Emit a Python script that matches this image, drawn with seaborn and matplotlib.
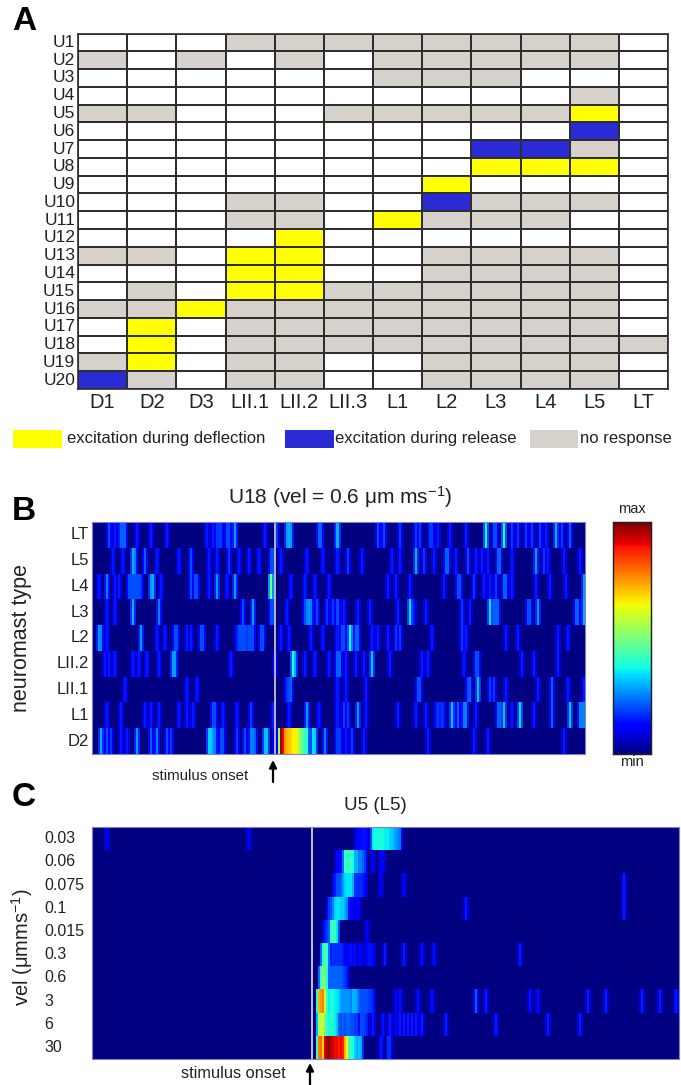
import numpy as np
import matplotlib
matplotlib.use("Agg")
import matplotlib.pyplot as plt
from matplotlib.colors import ListedColormap
from matplotlib.patches import Rectangle, FancyArrowPatch
import seaborn as sns

W, H = 681, 1085

# ---------- panel A ----------
neuromasts = ["D1", "D2", "D3", "LII.1", "LII.2", "LII.3", "L1", "L2", "L3", "L4", "L5", "LT"]
units = [f"U{i}" for i in range(1, 21)]
# 0 = not recorded, 1 = no response, 2 = deflection, 3 = release
responses = [
    [0,0,0,1,1,1,1,1,1,1,1,0],
    [1,0,1,0,1,0,1,1,1,1,1,0],
    [0,0,0,0,0,0,1,1,1,0,0,0],
    [0,0,0,0,0,0,0,0,0,0,1,0],
    [1,1,0,0,0,1,1,1,1,1,2,0],
    [0,0,0,0,0,0,0,0,0,0,3,0],
    [0,0,0,0,0,0,0,0,3,3,1,0],
    [0,0,0,0,0,0,0,0,2,2,2,0],
    [0,0,0,0,0,0,0,2,0,0,0,0],
    [0,0,0,1,1,0,0,3,1,1,1,0],
    [0,0,0,1,1,0,2,1,1,1,0,0],
    [0,0,0,0,2,0,0,0,0,0,0,0],
    [1,1,0,2,2,0,0,1,1,1,1,0],
    [0,0,0,2,2,0,0,1,1,1,1,0],
    [0,1,0,2,2,1,1,1,1,1,1,0],
    [1,1,2,1,1,1,1,1,1,1,1,0],
    [0,2,0,1,1,1,1,1,1,1,1,0],
    [0,2,0,1,1,1,1,1,1,1,1,1],
    [1,2,0,1,1,0,0,1,1,1,1,0],
    [3,1,0,1,1,0,0,1,1,1,1,0],
]
legend_labels = ["excitation during deflection", "excitation during release", "no response"]
state_colors = ["#FFFFFF", "#D6D1CB", "#FFFF00", "#2B2BD6"]

# ---------- panel B: (time bin, normalised rate) ----------
b_rows = ["LT", "L5", "L4", "L3", "L2", "LII.2", "LII.1", "L1", "D2"]
b_bins = 246
b_lt = [(8,.2),(11,.15),(13,.15),(14,.22),(15,.22),(16,.22),(22,.15),(29,.15),(37,.15),(57,.15),(60,.15),(62,.18),(63,.18),(64,.18),(67,.2),(68,.2),(71,.28),(86,.15),(92,.18),(97,.28),(98,.3),(99,.28),(113,.22),(114,.22),(122,.3),(142,.2),(145,.2),(153,.18),(161,.18),(163,.18),(168,.18),(169,.18),(172,.15),(178,.15),(186,.15),(196,.38),(200,.2),(201,.2),(205,.38),(209,.18),(212,.18),(216,.18),(219,.18),(223,.18),(226,.15),(231,.3),(234,.18),(238,.22)]
b_l5 = [(10,.15),(15,.15),(20,.3),(21,.25),(26,.22),(32,.15),(43,.15),(49,.2),(58,.15),(62,.15),(68,.18),(73,.15),(78,.15),(83,.15),(89,.2),(90,.2),(94,.15),(107,.15),(115,.15),(122,.15),(127,.18),(134,.15),(149,.15),(153,.15),(161,.3),(165,.18),(170,.15),(176,.22),(177,.22),(181,.15),(187,.2),(191,.15),(194,.15),(197,.15),(202,.22),(203,.22),(209,.15),(221,.28),(225,.18),(227,.15),(235,.15),(243,.15)]
b_l4 = [(3,.15),(7,.25),(11,.15),(13,.15),(18,.2),(19,.2),(20,.2),(21,.2),(22,.2),(23,.2),(24,.18),(29,.28),(30,.3),(34,.15),(49,.2),(51,.2),(52,.2),(58,.15),(62,.28),(67,.15),(71,.28),(89,.5),(99,.15),(106,.15),(111,.15),(118,.15),(147,.15),(151,.15),(158,.15),(175,.15),(182,.2),(183,.2),(190,.18),(195,.15),(198,.15),(201,.18),(205,.22),(206,.22),(209,.15),(221,.15),(228,.15),(236,.15),(245,.28)]
b_l3 = [(7,.15),(11,.15),(20,.3),(33,.25),(75,.2),(80,.28),(89,.2),(90,.2),(97,.15),(106,.2),(107,.25),(108,.27),(109,.25),(112,.2),(117,.18),(120,.18),(122,.2),(125,.15),(132,.15),(138,.15),(152,.15),(158,.35),(160,.15),(166,.15),(184,.18),(188,.15),(198,.35),(200,.22),(201,.22),(202,.22),(217,.2),(218,.2),(222,.28),(241,.22),(242,.22),(245,.3)]
b_l2 = [(3,.28),(4,.25),(7,.15),(24,.28),(32,.15),(36,.15),(41,.2),(42,.2),(47,.15),(49,.15),(54,.2),(55,.2),(62,.15),(72,.15),(73,.2),(74,.2),(75,.2),(76,.2),(77,.18),(78,.2),(79,.2),(80,.2),(84,.2),(85,.2),(94,.15),(98,.15),(109,.15),(115,.15),(122,.15),(124,.2),(125,.2),(128,.38),(129,.25),(131,.22),(132,.22),(139,.15),(142,.15),(147,.15),(151,.18),(153,.18),(169,.15),(184,.18),(186,.15),(206,.15),(212,.15),(232,.15),(237,.15)]
b_lii2 = [(6,.15),(8,.15),(11,.15),(20,.15),(23,.15),(27,.15),(33,.15),(40,.28),(41,.28),(69,.15),(91,.15),(100,.38),(101,.3),(106,.15),(111,.15),(118,.15),(122,.22),(123,.22),(126,.15),(131,.15),(135,.15),(139,.32),(148,.15),(164,.15),(167,.15),(185,.15),(191,.2),(192,.2),(214,.15),(220,.15),(232,.15)]
b_lii1 = [(16,.15),(47,.15),(52,.15),(97,.18),(98,.2),(99,.22),(122,.15),(126,.15),(136,.15),(162,.2),(163,.2),(187,.2),(188,.22),(192,.32),(198,.18),(200,.18),(206,.15),(222,.15),(229,.22),(237,.15),(245,.15)]
b_l1 = [(7,.15),(14,.15),(26,.15),(29,.15),(33,.15),(43,.15),(47,.15),(50,.15),(60,.2),(61,.2),(65,.15),(72,.15),(79,.18),(90,.15),(98,.15),(107,.28),(113,.15),(122,.15),(125,.18),(127,.18),(132,.28),(136,.15),(152,.15),(161,.15),(166,.15),(171,.15),(172,.18),(173,.15),(174,.18),(175,.15),(179,.32),(182,.22),(185,.25),(186,.25),(191,.15),(202,.22),(203,.22),(205,.32),(209,.15),(213,.35),(220,.15),(229,.22),(238,.32),(243,.25),(244,.25),(245,.25)]
b_d2 = [(4,.3),(7,.2),(9,.18),(14,.15),(17,.15),(22,.28),(29,.22),(32,.25),(37,.2),(39,.18),(58,.33),(59,.33),(60,.28),(61,.25),(64,.2),(65,.2),(72,.18),(76,.2),(79,.25),(80,.25),(81,.22),(86,.32),(87,.32),(91,.2),(94,.97),(95,.9),(96,.75),(97,.72),(98,.7),(99,.68),(100,.65),(101,.65),(102,.65),(103,.55),(104,.5),(105,.45),(106,.42),(107,.4),(110,.35),(111,.33),(116,.25),(123,.18),(122,.18),(126,.15),(129,.18),(135,.15),(167,.15),(190,.15),(197,.15),(235,.15)]
b_events = [b_lt, b_l5, b_l4, b_l3, b_l2, b_lii2, b_lii1, b_l1, b_d2]

# ---------- panel C ----------
c_rows = ["0.03", "0.06", "0.075", "0.1", "0.015", "0.3", "0.6", "3", "6", "30"]
c_bins = 294
c_003 = [(7,.12),(78,.12),(132,.13),(133,.13),(134,.13),(135,.14),(136,.14),(137,.13),(140,.36),(141,.38),(142,.38),(143,.38),(144,.38),(145,.38),(146,.36),(147,.36),(148,.36),(149,.33),(150,.33),(151,.3),(152,.28),(153,.26),(154,.24)]
c_006 = [(122,.11),(123,.13),(124,.13),(125,.13),(126,.42),(127,.42),(128,.4),(129,.42),(130,.38),(131,.3),(132,.3),(133,.25),(134,.25),(135,.22),(136,.18),(140,.12),(144,.12),(145,.12)]
c_0075 = [(121,.15),(122,.2),(123,.2),(124,.22),(125,.28),(126,.33),(127,.35),(128,.35),(129,.35),(130,.3),(131,.17),(132,.17),(133,.17),(134,.17),(135,.15),(136,.13),(144,.12),(156,.13),(266,.15)]
c_01 = [(118,.18),(119,.2),(120,.25),(121,.33),(122,.35),(123,.35),(124,.33),(125,.33),(126,.3),(127,.25),(128,.13),(129,.13),(130,.13),(132,.12),(133,.12),(187,.15),(266,.15)]
c_0015 = [(116,.15),(117,.18),(118,.2),(119,.4),(120,.42),(121,.42),(122,.35),(137,.12)]
c_03 = [(115,.4),(116,.45),(117,.42),(118,.2),(119,.16),(120,.17),(121,.17),(122,.17),(123,.17),(124,.17),(125,.15),(127,.13),(128,.13),(129,.14),(130,.12),(131,.14),(133,.13),(134,.13),(137,.13),(138,.14),(139,.14),(140,.13),(146,.15),(156,.15),(165,.14),(171,.14),(214,.15)]
c_06 = [(114,.42),(115,.5),(116,.5),(117,.38),(118,.22),(119,.22),(120,.22),(121,.22),(122,.22),(123,.22),(124,.22),(125,.2),(126,.18),(127,.15)]
c_3 = [(113,.72),(114,.75),(115,.78),(116,.6),(117,.42),(118,.36),(119,.38),(120,.38),(121,.36),(122,.35),(123,.33),(124,.28),(125,.27),(126,.27),(127,.27),(128,.27),(129,.25),(130,.3),(131,.3),(132,.28),(133,.22),(134,.2),(135,.2),(136,.2),(137,.2),(138,.18),(139,.18),(140,.15),(152,.13),(154,.14),(163,.14),(170,.14),(192,.22),(197,.15),(219,.14),(223,.14),(248,.15),(257,.15),(275,.15),(284,.15),(292,.15)]
c_6 = [(113,.55),(114,.58),(115,.6),(116,.48),(117,.42),(118,.38),(119,.4),(120,.38),(121,.36),(122,.32),(123,.22),(124,.2),(125,.22),(126,.2),(127,.22),(128,.22),(129,.2),(130,.2),(131,.18),(132,.18),(134,.2),(135,.2),(136,.18),(137,.16),(140,.15),(145,.14),(149,.15),(152,.13),(154,.15),(156,.15),(158,.15),(160,.15),(162,.15),(165,.15),(177,.15),(202,.15),(228,.15),(244,.15)]
c_30 = [(113,.78),(114,.8),(115,.68),(116,.92),(117,.97),(118,.98),(119,.95),(120,.93),(121,.9),(122,.9),(123,.88),(124,.9),(125,.88),(126,.72),(127,.65),(128,.42),(129,.42),(130,.38),(131,.33),(132,.3),(133,.32),(134,.3),(144,.15),(148,.17),(149,.17)]
c_events = [c_003, c_006, c_0075, c_01, c_0015, c_03, c_06, c_3, c_6, c_30]


def to_matrix(rows, n_bins):
    m = np.zeros((len(rows), n_bins))
    for r, ev in enumerate(rows):
        for b, v in ev:
            if b < n_bins:
                m[r, b] = v
    # the reference image is slightly soft: let each stripe bleed into its neighbours
    soft = m.copy()
    soft[:, 1:] = np.maximum(soft[:, 1:], 0.55 * m[:, :-1])
    soft[:, :-1] = np.maximum(soft[:, :-1], 0.55 * m[:, 1:])
    return soft


def px_axes(fig, x0, y0, x1, y1):
    return fig.add_axes([x0 / W, 1 - y1 / H, (x1 - x0) / W, (y1 - y0) / H])


sns.set_theme(style="white")
plt.rcParams["font.family"] = ["Liberation Sans", "DejaVu Sans"]
plt.rcParams["mathtext.fontset"] = "custom"
plt.rcParams["mathtext.rm"] = "Liberation Sans"
plt.rcParams["mathtext.it"] = "Liberation Sans"
plt.rcParams["mathtext.bf"] = "Liberation Sans:bold"
text_color = "#222222"

fig = plt.figure(figsize=(W / 100, H / 100), dpi=100, facecolor="white")


def ftext(x, y, s, **kw):
    kw.setdefault("color", text_color)
    fig.text(x / W, 1 - y / H, s, **kw)


# panel A
ax_a = px_axes(fig, 78, 33.5, 668, 389)
sns.heatmap(np.array(responses), ax=ax_a, cmap=ListedColormap(state_colors), vmin=-.5, vmax=3.5,
            cbar=False, linewidths=1.2, linecolor="#2E2E2E", square=False,
            xticklabels=neuromasts, yticklabels=units)
ax_a.tick_params(axis="both", length=0)
ax_a.tick_params(axis="y", labelsize=12.5, labelcolor=text_color, pad=2, rotation=0)
ax_a.tick_params(axis="x", labelsize=14.5, labelcolor=text_color, pad=3, rotation=0)
for s in ax_a.spines.values():
    s.set_visible(True)
    s.set_color("#2E2E2E")
    s.set_linewidth(1.2)

# legend of panel A
for (x0, x1, color, tx, label) in zip(
        [13, 285, 530], [62, 334, 578],
        [state_colors[2], state_colors[3], state_colors[1]],
        [67, 335, 580], legend_labels):
    fig.add_artist(Rectangle((x0 / W, 1 - 448 / H), (x1 - x0) / W, 18 / H,
                             transform=fig.transFigure, facecolor=color, edgecolor="none"))
    ftext(tx, 439, label, fontsize=12, va="center", ha="left")

# panel B
ax_b = px_axes(fig, 92, 522, 585, 754)
cax = px_axes(fig, 613, 522, 651, 754)
sns.heatmap(to_matrix(b_events, b_bins), ax=ax_b, cmap="jet", vmin=0, vmax=1,
            xticklabels=False, yticklabels=b_rows, cbar=True, cbar_ax=cax)
ax_b.tick_params(axis="y", length=0, labelsize=12, labelcolor=text_color, pad=2, rotation=0)
ax_b.axvline((275 - 92) / 2, color="#B5B5C8", lw=1.4)
cax.set_yticks([])
cax.tick_params(length=0)
for s in cax.spines.values():
    s.set_visible(True)
    s.set_color("#222222")
    s.set_linewidth(0.9)

# panel C
ax_c = px_axes(fig, 92, 827, 679, 1059)
sns.heatmap(to_matrix(c_events, c_bins), ax=ax_c, cmap="jet", vmin=0, vmax=1,
            xticklabels=False, yticklabels=c_rows, cbar=False)
ax_c.tick_params(axis="y", length=0, labelsize=11.5, labelcolor=text_color, pad=34.5, rotation=0)
for lab in ax_c.get_yticklabels():
    lab.set_ha("left")
ax_c.axvline((312 - 92) / 2, color="#C4C4D8", lw=1.4)

for ax in (ax_b, ax_c):
    for s in ax.spines.values():
        s.set_visible(True)
        s.set_color("#7F7FD0")
        s.set_linewidth(0.8)

# texts
for (x, y, s) in [(12, 22, "A"), (12, 512, "B"), (12, 797, "C")]:
    ftext(x, y, s, fontsize=24, fontweight="bold", color="black", ha="left", va="center")
ftext(340, 497, r"U18 (vel = 0.6 $\mu$m ms$^{-1}$)", fontsize=15, ha="center", va="center")
ftext(375, 806, "U5 (L5)", fontsize=13.5, ha="center", va="center")
ftext(22, 638, "neuromast type", fontsize=15.5, rotation=90, ha="center", va="center")
ftext(22, 947, r"vel ($\mu$mms$^{-1}$)", fontsize=14.5, rotation=90, ha="center", va="center")
ftext(632, 509, "max", fontsize=10.5, ha="center", va="center")
ftext(632, 762, "min", fontsize=10.5, ha="center", va="center")
ftext(200, 776, "stimulus onset", fontsize=10.8, ha="center", va="center")
ftext(233, 1074, "stimulus onset", fontsize=11.8, ha="center", va="center")

for (x, y0, y1) in [(273, 782, 760), (310, 1085, 1063)]:
    fig.add_artist(FancyArrowPatch(
        (x / W, 1 - y0 / H), (x / W, 1 - y1 / H), transform=fig.transFigure,
        arrowstyle="-|>", mutation_scale=11, color="black", lw=1.6, shrinkA=0, shrinkB=0))

fig.savefig("out.png", dpi=100, facecolor="white")
